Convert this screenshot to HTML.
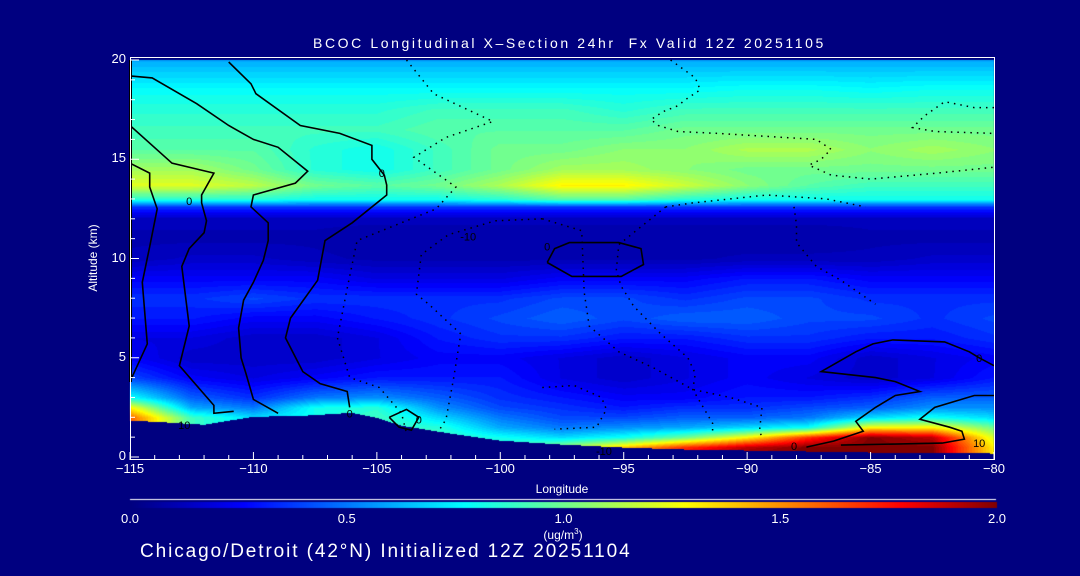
<!DOCTYPE html>
<html><head><meta charset="utf-8">
<style>
html,body{margin:0;padding:0;background:#000080;width:1080px;height:576px;overflow:hidden;}
body{position:relative;font-family:"Liberation Sans",sans-serif;color:#fff;}
.t{position:absolute;white-space:nowrap;color:#fff;}
canvas,svg{position:absolute;left:0;top:0;}
</style></head><body>
<canvas id="cv" width="1080" height="576"></canvas>
<svg id="ov" width="1080" height="576"></svg>
<div class="t" style="left:313px;top:35px;font-size:14px;letter-spacing:2.6px;">BCOC Longitudinal X&#8211;Section 24hr&nbsp; Fx Valid 12Z 20251105</div>
<div class="t" style="left:93px;top:258px;font-size:12px;transform:translate(-50%,-50%) rotate(-90deg);">Altitude (km)</div>
<div class="t" style="left:562px;top:482px;font-size:12px;transform:translateX(-50%);">Longitude</div>
<div class="t" style="left:563px;top:527px;font-size:12px;transform:translateX(-50%);">(ug/m<sup style="font-size:8px">3</sup>)</div>
<div class="t" style="left:140px;top:541px;font-size:19px;letter-spacing:1.9px;">Chicago/Detroit (42°N) Initialized 12Z 20251104</div>
<div id="labels"></div>
<script>
// ---- data ----
const lons = [-115,-112.5,-110,-107.5,-105,-102.5,-100,-97.5,-95,-92.5,-90,-87.5,-85,-82.5,-80];
const alts = [0,0.5,1,1.5,2,2.5,3,4,5,6,7,8,9,10,11,12,12.6,13,13.7,14.5,15.5,16.5,17.5,18.5,20];
const conc = [
[1.6,0.9,0.7,0.8,0.9,0.9,0.9,1.2,1.5,1.8,2,2,2,2,1.3],
[1.6,0.9,0.7,0.8,0.9,0.9,0.9,1.1,1.4,1.7,1.9,2,2,2,1.3],
[1.6,0.9,0.7,0.8,0.9,0.9,0.8,0.7,0.8,1.0,1.3,1.7,2,1.9,1.2],
[1.6,0.9,0.7,0.8,0.9,0.85,0.6,0.5,0.55,0.6,0.7,0.8,1.3,1.3,1.0],
[1.6,0.9,0.7,0.8,0.9,0.7,0.5,0.4,0.4,0.45,0.45,0.5,0.7,0.8,0.7],
[1.3,0.6,0.5,0.8,0.85,0.55,0.4,0.35,0.3,0.35,0.35,0.4,0.45,0.55,0.55],
[0.8,0.45,0.35,0.5,0.55,0.45,0.35,0.3,0.25,0.25,0.3,0.3,0.35,0.45,0.45],
[0.4,0.25,0.2,0.25,0.3,0.3,0.3,0.2,0.15,0.2,0.25,0.2,0.15,0.2,0.3],
[0.25,0.15,0.15,0.15,0.2,0.25,0.25,0.2,0.15,0.2,0.25,0.25,0.15,0.2,0.25],
[0.2,0.2,0.15,0.15,0.2,0.3,0.35,0.35,0.3,0.3,0.35,0.35,0.3,0.3,0.35],
[0.3,0.3,0.25,0.25,0.3,0.35,0.4,0.45,0.4,0.45,0.45,0.4,0.4,0.35,0.4],
[0.35,0.35,0.4,0.35,0.35,0.35,0.35,0.4,0.4,0.35,0.4,0.4,0.35,0.35,0.35],
[0.25,0.25,0.25,0.25,0.2,0.2,0.2,0.25,0.25,0.25,0.3,0.3,0.25,0.25,0.25],
[0.12,0.15,0.15,0.12,0.1,0.1,0.1,0.1,0.1,0.1,0.12,0.12,0.12,0.15,0.15],
[0.1,0.1,0.1,0.1,0.08,0.08,0.08,0.08,0.08,0.08,0.08,0.08,0.1,0.1,0.1],
[0.12,0.12,0.12,0.12,0.12,0.12,0.12,0.12,0.12,0.12,0.12,0.12,0.12,0.12,0.12],
[0.35,0.35,0.35,0.35,0.35,0.35,0.35,0.35,0.35,0.35,0.35,0.35,0.35,0.35,0.35],
[0.85,0.85,0.85,0.8,0.8,0.8,0.85,0.95,0.95,0.85,0.8,0.8,0.8,0.8,0.8],
[1.22,1.22,1.15,1.0,0.95,1.0,1.12,1.3,1.3,1.18,1.05,0.95,0.9,0.9,0.9],
[1.1,1.1,1.0,0.85,0.8,0.9,1.0,1.1,1.1,1.05,1.0,1.0,1.0,1.0,1.0],
[0.95,0.95,0.95,0.85,0.8,0.9,1.0,1.0,1.05,1.05,1.12,1.12,1.05,1.1,1.05],
[0.9,0.9,0.9,0.9,0.9,0.95,0.95,0.95,0.95,1.0,1.0,1.0,1.0,1.0,1.0],
[0.85,0.85,0.85,0.85,0.85,0.9,0.9,0.9,0.85,0.9,0.9,0.9,0.9,0.9,0.9],
[0.78,0.78,0.78,0.78,0.78,0.78,0.78,0.78,0.78,0.78,0.8,0.8,0.78,0.8,0.8],
[0.6,0.6,0.6,0.6,0.6,0.6,0.6,0.6,0.6,0.6,0.6,0.6,0.6,0.6,0.6]
];
const terrainLons = [-115,-114,-112,-110,-108,-106,-105,-104,-102,-100,-97.5,-95,-92.5,-90,-87.5,-85,-80];
const terrainAlt  = [1.85,1.8,1.65,2.05,2.1,2.25,2.0,1.6,1.2,0.85,0.65,0.5,0.4,0.35,0.3,0.25,0.2];
const xTicks = [-115,-110,-105,-100,-95,-90,-85,-80];
const yTicks = [0,5,10,15,20];
const cbTicks = [0.0,0.5,1.0,1.5,2.0];
// contour lines in (lon, alt) pairs
const solidContours = [
[[-115,14.8],[-114.2,14.3],[-114.2,13.6],[-113.9,12.5],[-114.2,10.6],[-114.5,8.8],[-114.3,5.7],[-115,3.8]],
[[-115,16.7],[-113.3,14.8],[-111.6,14.3],[-112.1,13.2],[-112.1,12.8],[-111.9,11.9],[-112,11.3],[-112.6,10.5],[-112.9,9.6],[-112.6,6.6],[-113,4.6],[-111.6,2.6],[-111.6,2.2],[-110.8,2.3]],
[[-115,19.2],[-114.1,19.1],[-112.3,17.8],[-111,16.7],[-110,16.0],[-109,15.6],[-107.8,14.4],[-108.3,13.8],[-110,13.2],[-110.1,12.6],[-109.4,11.8],[-109.4,10.9],[-109.6,9.9],[-110,8.8],[-110.4,7.9],[-110.6,6.5],[-110.5,5.0],[-110.3,4.2],[-110,2.9],[-109,2.2]],
[[-111,19.9],[-110.1,18.8],[-109.9,18.3],[-108.1,16.7],[-106.5,16.3],[-105.2,15.7],[-105.2,15.0],[-104.7,14.2],[-104.6,13.7],[-104.6,13.2],[-106,11.8],[-107.1,10.9],[-107.4,8.9],[-108.5,7.0],[-108.7,6.0],[-108,4.3],[-107.3,3.7],[-106.2,3.3],[-106.1,2.5]],
[[-104.5,2.0],[-103.8,2.4],[-103.3,2.0],[-103.6,1.35],[-104.1,1.5],[-104.5,2.0]],
[[-98.1,9.8],[-97.8,10.5],[-97.2,10.8],[-95.2,10.8],[-94.3,10.5],[-94.2,9.7],[-95.1,9.1],[-97.1,9.1],[-98.1,9.8]],
[[-80,4.6],[-80.6,5.0],[-81,5.3],[-82,5.8],[-84.1,5.9],[-84.9,5.7],[-85.6,5.3],[-87,4.3],[-84.8,4.0],[-84,3.8],[-83,3.3],[-84,3.1],[-84.8,2.5],[-85.6,1.8],[-85.3,1.3],[-86.5,0.8],[-87.6,0.5]],
[[-80,3.1],[-80.8,3.1],[-82.4,2.5],[-83,1.9],[-81.8,1.5],[-81.3,1.3],[-81.2,0.9],[-82.1,0.7],[-86.2,0.6]]
];
const dottedContours = [
[[-93.1,20],[-92.1,19.1],[-91.9,18.5],[-92.5,18.0],[-92.8,17.7],[-93.4,17.4],[-93.9,17.0],[-93.6,16.7],[-92.8,16.4],[-91.2,16.3],[-87.2,16.0],[-86.6,15.5],[-87,15.0],[-87.5,14.7],[-86.6,14.2],[-85,14.0],[-82.3,14.3],[-80,14.6]],
[[-80,17.6],[-80.8,17.6],[-82,17.9],[-82.8,17.2],[-83.3,16.6],[-82.4,16.4],[-80,16.3]],
[[-103.8,20],[-102.7,18.3],[-100.3,16.9],[-102.2,16.1],[-103.5,15.1],[-101.8,13.6],[-102.6,12.5],[-104.4,11.6],[-105.8,10.9],[-106.2,8.5],[-106.6,6.0],[-106.1,4.0],[-104.9,3.5],[-104,2.2],[-103.8,1.2]],
[[-98.3,12.0],[-100.2,11.9],[-102.1,11.2],[-103.2,10.2],[-103.4,8.2],[-102.9,7.7],[-101.6,6.2],[-101.9,3.9],[-102.2,1.9],[-102.5,1.3]],
[[-98.3,12.0],[-96.7,11.4],[-96.6,8.3],[-96.4,6.6],[-95.2,5.3],[-93.8,4.5],[-92.2,3.4],[-90.7,3.0],[-89.4,2.5],[-89.5,1.3],[-89.4,1.0]],
[[-88.1,12.6],[-88,11.7],[-88,10.8],[-87.2,9.6],[-86.2,8.9],[-84.8,7.7]],
[[-93.3,12.6],[-92.2,12.8],[-89.2,13.2],[-86.8,13.0],[-85.2,12.6]],
[[-93.3,12.6],[-94,11.9],[-95.2,10.7],[-95.3,9.4],[-95.1,8.6],[-94.6,7.6],[-93.5,6.2],[-92.4,5.0],[-92.1,4.2],[-92.2,3.4],[-91.4,1.7],[-91.4,1.3]],
[[-98.3,3.5],[-97,3.6],[-95.9,3.0],[-95.7,2.4],[-96.1,1.5],[-97.8,1.4]]
];
// ---- axes ----
const X0=130,X1=994,YB=457,YT=60;
function xs(lon){return X0+(lon+115)/35*(X1-X0);}
function ys(a){return YB-a/20*(YB-YT);}
const stops=[[0,0,0,128],[0.26,0,0,255],[0.77,0,255,255],[1.03,128,255,128],[1.28,255,255,0],[1.78,255,0,0],[2.0,128,0,0]];
function cmap(v){
  v=Math.max(0,Math.min(2,v));
  for(let i=1;i<stops.length;i++){ if(v<=stops[i][0]){const a=stops[i-1],b=stops[i];const t=(v-a[0])/(b[0]-a[0]);
    return [a[1]+(b[1]-a[1])*t,a[2]+(b[2]-a[2])*t,a[3]+(b[3]-a[3])*t];}}
  return [128,0,0];
}
function findIdx(arr,v){let i=0;while(i<arr.length-2&&v>arr[i+1])i++;return i;}
function terrain(lon){const i=findIdx(terrainLons,lon);const t=Math.max(0,Math.min(1,(lon-terrainLons[i])/(terrainLons[i+1]-terrainLons[i])));return terrainAlt[i]+(terrainAlt[i+1]-terrainAlt[i])*t;}
function field(lon,a){
  const i=findIdx(lons,lon),j=findIdx(alts,a);
  const tx=Math.max(0,Math.min(1,(lon-lons[i])/(lons[i+1]-lons[i])));
  const ty=Math.max(0,Math.min(1,(a-alts[j])/(alts[j+1]-alts[j])));
  const v00=conc[j][i],v10=conc[j][i+1],v01=conc[j+1][i],v11=conc[j+1][i+1];
  return (v00*(1-tx)+v10*tx)*(1-ty)+(v01*(1-tx)+v11*tx)*ty;
}
const cv=document.getElementById('cv');const ctx=cv.getContext('2d');
const img=ctx.createImageData(X1-X0,460-YT);
for(let py=0;py<460-YT;py++){
  const a=(YB-(py+YT))/(YB-YT)*20;
  for(let px=0;px<X1-X0;px++){
    const lon=-115+(px+0.5)/(X1-X0)*35;
    let c;
    if(a<terrain(lon)) c=[0,0,128];
    else {let v=field(lon,a);v=Math.round(v*32)/32;c=cmap(v);}
    const k=(py*(X1-X0)+px)*4;img.data[k]=c[0];img.data[k+1]=c[1];img.data[k+2]=c[2];img.data[k+3]=255;
  }
}
ctx.putImageData(img,X0,YT);
// colorbar
for(let px=130;px<997;px++){const c=cmap((px-130)/(997-130)*2);ctx.fillStyle=`rgb(${c[0]|0},${c[1]|0},${c[2]|0})`;ctx.fillRect(px,502,1,6);}
ctx.fillStyle='#fff';ctx.fillRect(130,499,866,1);
// ---- overlay ----
const NS='http://www.w3.org/2000/svg';const ov=document.getElementById('ov');
function mk(tag,attrs){const e=document.createElementNS(NS,tag);for(const k in attrs)e.setAttribute(k,attrs[k]);ov.appendChild(e);return e;}
solidContours.forEach(line=>{
  const e=mk('polyline',{points:line.map(p=>xs(p[0]).toFixed(1)+','+ys(p[1]).toFixed(1)).join(' '),fill:'none',stroke:'#000','stroke-width':1.6});
  
  
});
dottedContours.forEach(line=>{
  const e=mk('polyline',{points:line.map(p=>xs(p[0]).toFixed(1)+','+ys(p[1]).toFixed(1)).join(' '),fill:'none',stroke:'#000','stroke-width':1.5,'stroke-dasharray':'1.5 5'});
  
  
});
const lbls=[[-112.6,12.9,'0'],[-104.8,14.3,'0'],[-106.1,2.2,'0'],[-103.3,1.9,'0'],[-98.1,10.6,'0'],[-101.3,11.1,'-10'],[-112.8,1.6,'10'],[-95.8,0.3,'-10'],[-88.1,0.55,'0'],[-80.6,5.0,'0'],[-80.6,0.7,'10']];
lbls.forEach(l=>{const e=mk('text',{x:xs(l[0]),y:ys(l[1])+4,'font-size':11,fill:'#000','text-anchor':'middle','font-family':'Liberation Sans, sans-serif'});e.textContent=l[2];
  
  });
// left boundary line
const lb=mk('line',{x1:130.5,y1:60,x2:130.5,y2:382,stroke:'#000','stroke-width':3});


// frame
const fr=mk('rect',{x:130.5,y:57.5,width:864,height:402,fill:'none',stroke:'#fff','stroke-width':1});


for(let lon=-115;lon<=-80;lon++){const major=lon%5===0;const t=mk('line',{x1:xs(lon),y1:460,x2:xs(lon),y2:major?452:455,stroke:'#fff','stroke-width':1});
  
  }
for(let a=0;a<=20;a+=1){const major=a%5===0;const t=mk('line',{x1:131,y1:ys(a),x2:major?139:135,y2:ys(a),stroke:'#fff','stroke-width':1});
  
  }
const L=document.getElementById('labels');
xTicks.forEach(v=>{const d=document.createElement('div');d.className='t';d.style.cssText=`left:${xs(v)}px;top:461px;font-size:13px;transform:translateX(-50%);`;d.textContent=String(v).replace('-','\u2212');
  
  L.appendChild(d);});
yTicks.forEach(v=>{const d=document.createElement('div');d.className='t';d.style.cssText=`right:${1080-126}px;top:${ys(v)-9}px;font-size:13px;`;d.textContent=v;
  
  L.appendChild(d);});
cbTicks.forEach(v=>{const d=document.createElement('div');d.className='t';d.style.cssText=`left:${130+v/2*867}px;top:511px;font-size:13px;transform:translateX(-50%);`;d.textContent=v.toFixed(1);
  
  L.appendChild(d);});
</script>
</body></html>
